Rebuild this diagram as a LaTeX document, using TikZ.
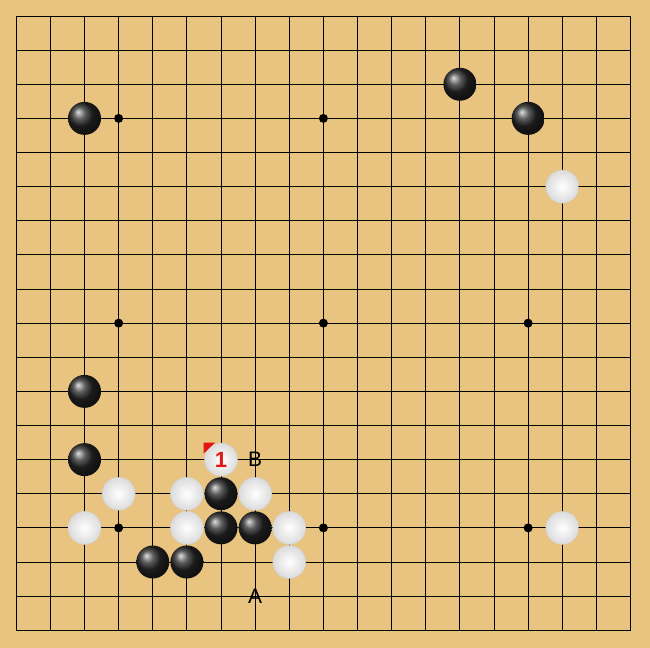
\documentclass[tikz,border=0pt]{standalone}
\usepackage{fontspec}
\setmainfont{Liberation Sans}
\usetikzlibrary{positioning,shadings}
\definecolor{boardwood}{RGB}{233,195,128}
\definecolor{markred}{RGB}{226,20,20}

\begin{document}
\begin{tikzpicture}[x=34.15pt,y=-34.15pt]
\tikzset{
    blackstone/.style={circle,inner sep=0pt,minimum size=33pt,shading=ball,ball color=black!85},
    whitestone/.style={circle,inner sep=0pt,minimum size=33pt,inner color=white,outer color=black!14,draw=black!18,thin},
    starpoint/.style={circle,fill=black,inner sep=0pt,minimum size=9pt},
    marklabel/.style={font=\fontsize{21}{21}\selectfont,text=black}
}
\useasboundingbox[fill=boardwood] (-0.477,-0.469) rectangle (18.571,18.507);
% board lines
\foreach \i in {0,...,18}{
  \draw[black,line width=0.9pt] (\i,0) -- (\i,18);
  \draw[black,line width=0.9pt] (0,\i) -- (18,\i);
}
\foreach \c in {3,9,15}
  \foreach \r in {3,9,15}
    \node[starpoint] (s\c\r) at (\c,\r) {};
% black stones
\node[blackstone] (b1) at (2,3) {};
\node[blackstone] (b2) at (13,2) {};
\node[blackstone] (b3) at (15,3) {};
\node[blackstone] (b4) at (2,11) {};
\node[blackstone] (b5) at (2,13) {};
\node[blackstone] (b6) at (6,14) {};
\node[blackstone] (b7) at (6,15) {};
\node[blackstone] (b8) at (7,15) {};
\node[blackstone] (b9) at (4,16) {};
\node[blackstone] (b10) at (5,16) {};
% white stones
\node[whitestone] (w1) at (16,5) {};
\node[whitestone] (w2) at (6,13) {};
\node[whitestone] (w3) at (3,14) {};
\node[whitestone] (w4) at (5,14) {};
\node[whitestone] (w5) at (7,14) {};
\node[whitestone] (w6) at (2,15) {};
\node[whitestone] (w7) at (5,15) {};
\node[whitestone] (w8) at (8,15) {};
\node[whitestone] (w9) at (16,15) {};
\node[whitestone] (w10) at (8,16) {};
% last move
\node[text=markred,font=\fontsize{22}{22}\selectfont\bfseries] (one) at (w2) {1};
\fill[markred] ([shift={(-17.5pt,17pt)}]w2.center) -- ++(11.5pt,0) -- ++(-11.5pt,-11pt) -- cycle;
% labels
\node[marklabel] (B) at (7,13) {B};
\node[marklabel] (A) at (7,17) {A};
\end{tikzpicture}
\end{document}
